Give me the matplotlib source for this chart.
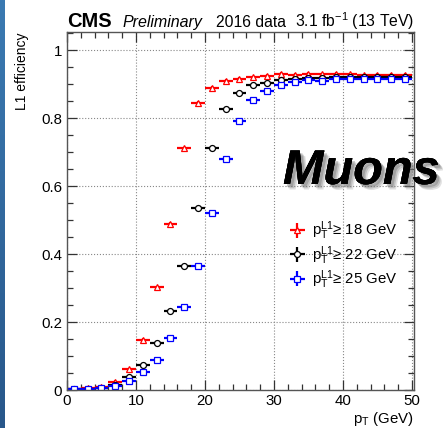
import numpy as np
import matplotlib
matplotlib.use("Agg")
import matplotlib.pyplot as plt
import matplotlib.patheffects as pe
from matplotlib.ticker import MultipleLocator
from matplotlib.colors import LinearSegmentedColormap

plt.rcParams['font.family'] = ['Liberation Sans', 'DejaVu Sans']
plt.rcParams['mathtext.fontset'] = 'custom'
plt.rcParams['mathtext.rm'] = 'Liberation Sans'
plt.rcParams['mathtext.it'] = 'Liberation Sans:italic'
plt.rcParams['mathtext.bf'] = 'Liberation Sans:bold'

# bin centres (2 GeV bins)
pt = [1, 3, 5, 7, 9, 11, 13, 15, 17, 19, 21, 23, 25, 27, 29, 31, 33, 35, 37, 39, 41, 43, 45, 47, 49]
bin_half_width = 1.0

eff_18 = [0.003, 0.005, 0.008, 0.024, 0.061, 0.148, 0.302, 0.489, 0.711, 0.845, 0.889, 0.910,
          0.916, 0.920, 0.924, 0.930, 0.927, 0.930, 0.928, 0.930, 0.928, 0.926, 0.927, 0.927, 0.927]
eff_22 = [0.002, 0.004, 0.006, 0.015, 0.039, 0.074, 0.137, 0.231, 0.366, 0.534, 0.711, 0.826,
          0.874, 0.897, 0.904, 0.912, 0.915, 0.918, 0.918, 0.920, 0.920, 0.920, 0.921, 0.922, 0.921]
eff_25 = [0.002, 0.004, 0.006, 0.012, 0.027, 0.052, 0.088, 0.153, 0.245, 0.366, 0.520, 0.679,
          0.791, 0.853, 0.879, 0.897, 0.906, 0.912, 0.910, 0.915, 0.916, 0.915, 0.915, 0.915, 0.915]
err = 0.004

labels = [r"$\mathrm{p}_\mathrm{T}^\mathrm{L1}$≥ 18 GeV",
          r"$\mathrm{p}_\mathrm{T}^\mathrm{L1}$≥ 22 GeV",
          r"$\mathrm{p}_\mathrm{T}^\mathrm{L1}$≥ 25 GeV"]
colors = ['#ff0000', '#000000', '#0000ff']
markers = ['^', 'o', 's']

fig = plt.figure(figsize=(4.43, 4.28), dpi=100)
fig.patch.set_facecolor('white')

# blue gradient strip on left edge
sax = fig.add_axes([0, 0, 4.5/443, 1])
grad = np.linspace(0, 1, 256).reshape(-1, 1)
cm = LinearSegmentedColormap.from_list('g', ['#3b7ab2', '#28578a'])
sax.imshow(grad, aspect='auto', cmap=cm, extent=[0, 1, 0, 1], origin='upper')
sax.axis('off')

ax = fig.add_axes([67/443, 1 - 390/428, (414-67)/443, (390-32)/428])
for y, c, m, lab in zip([eff_18, eff_22, eff_25], colors, markers, labels):
    ax.errorbar(pt, y, xerr=bin_half_width, yerr=err, fmt=m, color=c, ecolor=c,
                mfc='white', mec=c, ms=4.3, mew=0.9, elinewidth=1.6, capsize=0, label=lab)

ax.set_xlim(0, 50.3)
ax.set_ylim(0, 1.053)
ax.xaxis.set_minor_locator(MultipleLocator(2))
ax.yaxis.set_minor_locator(MultipleLocator(0.05))
ax.set_xticks([0, 10, 20, 30, 40, 50])
ax.set_xticklabels(['0', '10', '20', '30', '40', '50'])
ax.set_yticks([0, 0.2, 0.4, 0.6, 0.8, 1.0])
ax.set_yticklabels(['0', '0.2', '0.4', '0.6', '0.8', '1'])
ax.tick_params(which='both', direction='in', top=True, right=True, labelsize=10.8, color='#333333')
ax.tick_params(which='major', length=7, width=0.9)
ax.tick_params(which='minor', length=4, width=0.9)
ax.tick_params(axis='x', pad=3)
ax.grid(True, which='major', linestyle=':', color='#888888', linewidth=0.8)
ax.set_axisbelow(True)
for s in ax.spines.values():
    s.set_color('#555555')
    s.set_linewidth(1.0)

ax.set_ylabel('L1 efficiency', fontsize=10, loc='top', labelpad=9)
ax.set_xlabel(r'$\mathrm{p}_\mathrm{T}$ (GeV)', fontsize=10.8, loc='right', labelpad=1)

leg = ax.legend(loc='upper left', bbox_to_anchor=(0.605, 0.505), frameon=False, fontsize=10.8,
                handlelength=1.3, handletextpad=0.35, labelspacing=0.12, borderpad=0.2)

# header
fig.text(67/443, 1 - 27/428, 'CMS', fontsize=14.5, fontweight='bold', ha='left', va='baseline')
fig.text(123/443, 1 - 27/428, 'Preliminary', fontsize=11.5, style='italic', ha='left', va='baseline')
fig.text(216/443, 1 - 27/428, '2016 data', fontsize=11.3, ha='left', va='baseline')
fig.text(414/443, 1 - 27/428, r'3.1 fb$^{-1}$ (13 TeV)', fontsize=11.3, ha='right', va='baseline')

# Muons with soft shadow
shadow = [pe.withSimplePatchShadow(offset=(4, -4), shadow_rgbFace='#888888', alpha=0.25),
          pe.withSimplePatchShadow(offset=(3, -3), shadow_rgbFace='#777777', alpha=0.3),
          pe.withSimplePatchShadow(offset=(2, -2), shadow_rgbFace='#666666', alpha=0.35),
          pe.Normal()]
fig.text(283/443, 1 - 184/428, 'Muons', fontsize=35, fontweight='bold', style='italic',
         ha='left', va='baseline', path_effects=shadow)

fig.savefig('out.png', dpi=100, facecolor='white')
